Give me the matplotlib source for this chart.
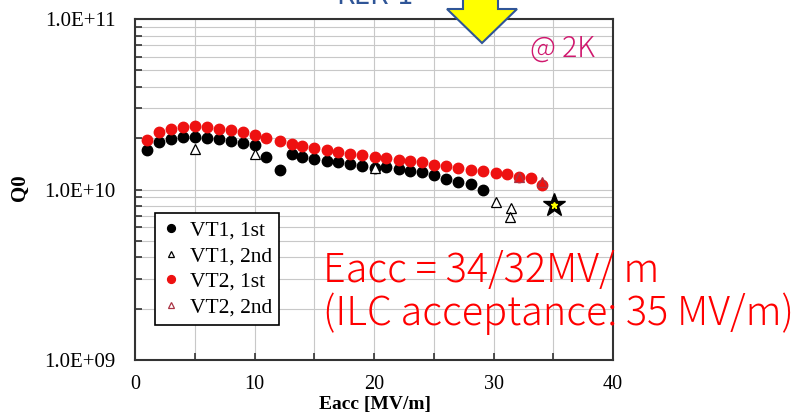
import numpy as np
import matplotlib
matplotlib.use("Agg")
import matplotlib.pyplot as plt
from matplotlib.ticker import FixedLocator, LogLocator, NullFormatter
from matplotlib.patches import Polygon

# VT1, 1st
vt1_1st_e = [1.0, 2.0, 3.0, 4.0, 5.0, 6.0, 7.0, 8.0, 9.0, 10.0, 11.0, 12.1, 13.1,
             14.0, 15.0, 16.1, 17.0, 18.0, 19.0, 20.1, 21.0, 22.1, 23.0, 24.0,
             25.0, 26.0, 27.0, 28.1, 29.1]
vt1_1st_q = [1.71e10, 1.90e10, 1.97e10, 2.03e10, 2.03e10, 2.01e10, 1.98e10, 1.92e10,
             1.87e10, 1.82e10, 1.55e10, 1.30e10, 1.62e10, 1.56e10, 1.50e10, 1.47e10,
             1.44e10, 1.42e10, 1.38e10, 1.34e10, 1.36e10, 1.32e10, 1.29e10, 1.26e10,
             1.22e10, 1.15e10, 1.10e10, 1.07e10, 0.99e10]

# VT1, 2nd
vt1_2nd_e = [5.0, 10.0, 20.1, 30.2, 31.5, 31.4]
vt1_2nd_q = [1.73e10, 1.62e10, 1.33e10, 0.85e10, 0.78e10, 0.69e10]

# VT2, 1st
vt2_1st_e = [1.0, 2.0, 3.0, 4.0, 5.0, 6.0, 7.0, 8.0, 9.0, 10.0, 11.0, 12.1, 13.1,
             14.0, 15.0, 16.1, 17.0, 18.0, 19.0, 20.1, 21.0, 22.1, 23.0, 24.0,
             25.0, 26.0, 27.0, 28.1, 29.1, 30.2, 31.1, 32.1, 33.1, 34.1]
vt2_1st_q = [1.94e10, 2.17e10, 2.27e10, 2.33e10, 2.36e10, 2.33e10, 2.27e10, 2.22e10,
             2.17e10, 2.08e10, 2.00e10, 1.92e10, 1.86e10, 1.79e10, 1.74e10, 1.70e10,
             1.66e10, 1.62e10, 1.60e10, 1.56e10, 1.52e10, 1.48e10, 1.47e10, 1.44e10,
             1.40e10, 1.37e10, 1.33e10, 1.31e10, 1.28e10, 1.25e10, 1.23e10, 1.19e10,
             1.17e10, 1.06e10]

# VT2, 2nd
vt2_2nd_e = [32.1, 34.1]
vt2_2nd_q = [1.19e10, 1.10e10]

# ILC target star
star_e = [35.1]
star_q = [0.81e10]

y_ticks = [1e9, 1e10, 1e11]
y_labels = ["1.0E+09", "1.0E+10", "1.0E+11"]
x_ticks = [0, 10, 20, 30, 40]

W, H = 794, 419


def px(x, y):
    return x / W, 1 - y / H


serif = "Liberation Serif"
jp = ["Noto Sans CJK JP", "DejaVu Sans"]

fig = plt.figure(figsize=(W / 100, H / 100), dpi=100)
ax = fig.add_axes([135 / W, 1 - 360 / H, 478 / W, 341 / H])

ax.set_yscale("log")
ax.set_xlim(0, 40)
ax.set_ylim(1e9, 1e11)

ax.plot(vt1_1st_e, vt1_1st_q, "o", color="black", ms=7.5, mec="black",
        label="VT1, 1st", zorder=3)
ax.plot(vt2_1st_e, vt2_1st_q, "o", color="#EE1111", ms=7.5, mec="#EE1111",
        label="VT2, 1st", zorder=4)
ax.plot(vt1_2nd_e, vt1_2nd_q, "^", mfc="white", mec="black", ms=6.5, mew=0.9,
        label="VT1, 2nd", zorder=5)
ax.plot(vt2_2nd_e, vt2_2nd_q, "^", mfc="#EE1111", mec="#AA3344", ms=6.5, mew=0.9,
        label="VT2, 2nd", zorder=4)
ax.plot(star_e, star_q, "*", color="black", ms=17, zorder=6)
ax.plot(star_e, star_q, "*", color="#FFFF00", ms=5, zorder=7)

# ticks and grid
ax.yaxis.set_major_locator(FixedLocator(y_ticks))
ax.set_yticklabels(y_labels)
ax.yaxis.set_minor_locator(LogLocator(base=10, subs=np.arange(2, 10)))
ax.yaxis.set_minor_formatter(NullFormatter())
ax.xaxis.set_major_locator(FixedLocator(x_ticks))
ax.xaxis.set_minor_locator(FixedLocator([5, 15, 25, 35]))
ax.tick_params(which="both", direction="in", length=5, width=1.2, color="#333333")
ax.tick_params(axis="y", pad=14, labelsize=15)
ax.tick_params(axis="x", pad=11, labelsize=14.5)
for lab in ax.get_xticklabels() + ax.get_yticklabels():
    lab.set_fontfamily(serif)
ax.grid(True, which="both", color="#C8C8C8", lw=0.8)
ax.set_axisbelow(True)
for sp in ax.spines.values():
    sp.set_color("#333333")
    sp.set_linewidth(1.5)

leg = ax.legend(handles=[ax.lines[0], ax.lines[2], ax.lines[1], ax.lines[3]],
                loc="upper left", bbox_to_anchor=(0.042, 0.431), borderaxespad=0,
                prop={"family": serif, "size": 15.5}, fancybox=False, framealpha=1,
                edgecolor="black", handlelength=0.8, handletextpad=0.45,
                labelspacing=0.26, borderpad=0.35, markerscale=0.75)
leg.get_frame().set_linewidth(1.2)
leg.get_lines()[3].set_markerfacecolor("white")
leg.get_lines()[3].set_markeredgecolor("#AA3344")

fig.text(*px(375, 404), "Eacc [MV/m]", family=serif, weight="bold", size=14,
         ha="center", va="center")
fig.text(*px(20, 188), "Q0", family=serif, weight="bold", size=15,
         ha="center", va="center", rotation=90)

# annotations
fig.text(*px(530, 57), "@ 2K", family=jp, size=20.5, weight="light", color="#D0186E",
         ha="left", va="baseline")
fig.text(*px(323, 282), "Eacc = 34/32MV/ m", family=jp, size=28.5, weight="light",
         color="#FF0000", ha="left", va="baseline")
fig.text(*px(323, 325), "(ILC acceptance: 35 MV/m)", family=jp, size=28.5,
         weight="light", color="#FF0000", ha="left", va="baseline")
fig.text(*px(336, 3.5), "KEK-1", family=jp, size=20, color="#2F5597",
         ha="left", va="baseline")

arrow_px = [(463, -10), (463, 9), (447, 9), (482, 43), (517, 9), (498, 9), (498, -10)]
arrow = Polygon([px(x, y) for x, y in arrow_px], closed=True, transform=fig.transFigure,
                facecolor="#FFFF00", edgecolor="#2F5597", lw=1.5, clip_on=False,
                zorder=10)
fig.patches.append(arrow)

fig.savefig("out.png", dpi=100)
